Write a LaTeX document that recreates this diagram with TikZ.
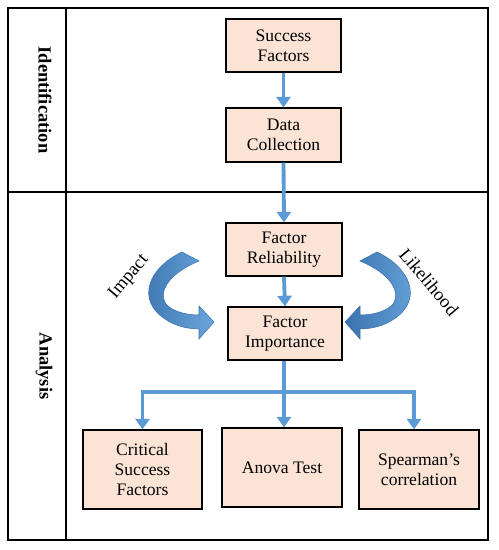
\documentclass[tikz,border=0pt]{standalone}
\usepackage{fontspec}
\IfFontExistsTF{LiberationSerif-Regular.ttf}
  {\setmainfont{LiberationSerif}[Extension=.ttf,UprightFont=*-Regular,BoldFont=*-Bold,ItalicFont=*-Italic,BoldItalicFont=*-BoldItalic]}
  {\setmainfont{Liberation Serif}}
\usetikzlibrary{arrows.meta,calc}
\definecolor{boxfill}{HTML}{FBE4D5}
\definecolor{arrblue}{HTML}{5B9BD5}
\definecolor{curvdark}{HTML}{3A72AE}
\definecolor{curvlight}{HTML}{6AA6DC}
\begin{document}
\begin{tikzpicture}[x=0.02cm,y=-0.02cm,
  box/.style={draw=black,line width=0.7pt,fill=boxfill,align=center,
    font=\rmfamily\fontsize{10}{11.5}\selectfont,inner sep=1pt},
  conn/.style={draw=arrblue,line width=2.2pt,-{Triangle[width=8pt,length=6pt]}},
  frame/.style={draw=black,line width=0.8pt},
  phase/.style={font=\rmfamily\fontsize{10.5}{12}\selectfont\bfseries,rotate=-90},
  side/.style={font=\rmfamily\fontsize{10.5}{12}\selectfont},
  curvarrow/.style={left color=curvdark,right color=curvlight,draw=curvdark,line width=0.3pt}]
\useasboundingbox (0,0) rectangle (498,550);
% frame
\draw[frame] (8,8) rectangle (488,540);
\draw[frame] (66,8) -- (66,540);
\draw[frame] (8,192) -- (488,192);
\node[phase] (id) at (45,100) {Identification};
\node[phase] (an) at (44,366) {Analysis};
% boxes
\node[box,minimum width=115*0.02cm,minimum height=53*0.02cm] (sf) at (283.5,45.5) {Success\\Factors};
\node[box,minimum width=115*0.02cm,minimum height=54*0.02cm] (dc) at (283.5,135) {Data\\Collection};
\node[box,minimum width=116*0.02cm,minimum height=53*0.02cm] (fr) at (284,249.5) {Factor\\Reliability};
\node[box,minimum width=114*0.02cm,minimum height=53*0.02cm] (fi) at (285,333.5) {Factor\\Importance};
\node[box,minimum width=119*0.02cm,minimum height=79*0.02cm] (cs) at (142.5,469.5) {Critical\\Success\\Factors};
\node[box,minimum width=120*0.02cm,minimum height=79*0.02cm] (at) at (282,467.5) {Anova Test};
\node[box,minimum width=120*0.02cm,minimum height=79*0.02cm] (sp) at (419,469.5) {Spearman’s\\correlation};
% connectors
\draw[conn] (sf.south) -- (dc.north);
\draw[conn] (dc.south) -- (fr.north);
\draw[conn] (fr.south) -- (fi.north);
\coordinate (j) at (284,392);
\draw[draw=arrblue,line width=2.2pt] (fi.south -| j) -- (j);
\draw[conn] (j) -- (at.north -| j);
\draw[conn] (j) -| (cs.north);
\coordinate (spt) at (414,392);
\draw[conn] (j) -- (spt) -- (spt |- sp.north);
% curved arrows
\path[curvarrow] (182,252) .. controls (148,268) and (136,300) .. (165,319)
  .. controls (175,326) and (188,329) .. (199,329) -- (199,339) -- (214,322)
  -- (199,306) -- (199,315) .. controls (185,315) and (172,311) .. (166,304)
  .. controls (157,290) and (172,272) .. (199,261) -- cycle;
\begin{scope}[shift={(559,0)},xscale=-1]
\path[curvarrow] (182,252) .. controls (148,268) and (136,300) .. (165,319)
  .. controls (175,326) and (188,329) .. (199,329) -- (199,339) -- (214,322)
  -- (199,306) -- (199,315) .. controls (185,315) and (172,311) .. (166,304)
  .. controls (157,290) and (172,272) .. (199,261) -- cycle;
\end{scope}
\node[side,rotate=50] (imp) at (129,277) {Impact};
\node[side,rotate=-50] (lik) at (429,282) {Likelihood};
\end{tikzpicture}
\end{document}
